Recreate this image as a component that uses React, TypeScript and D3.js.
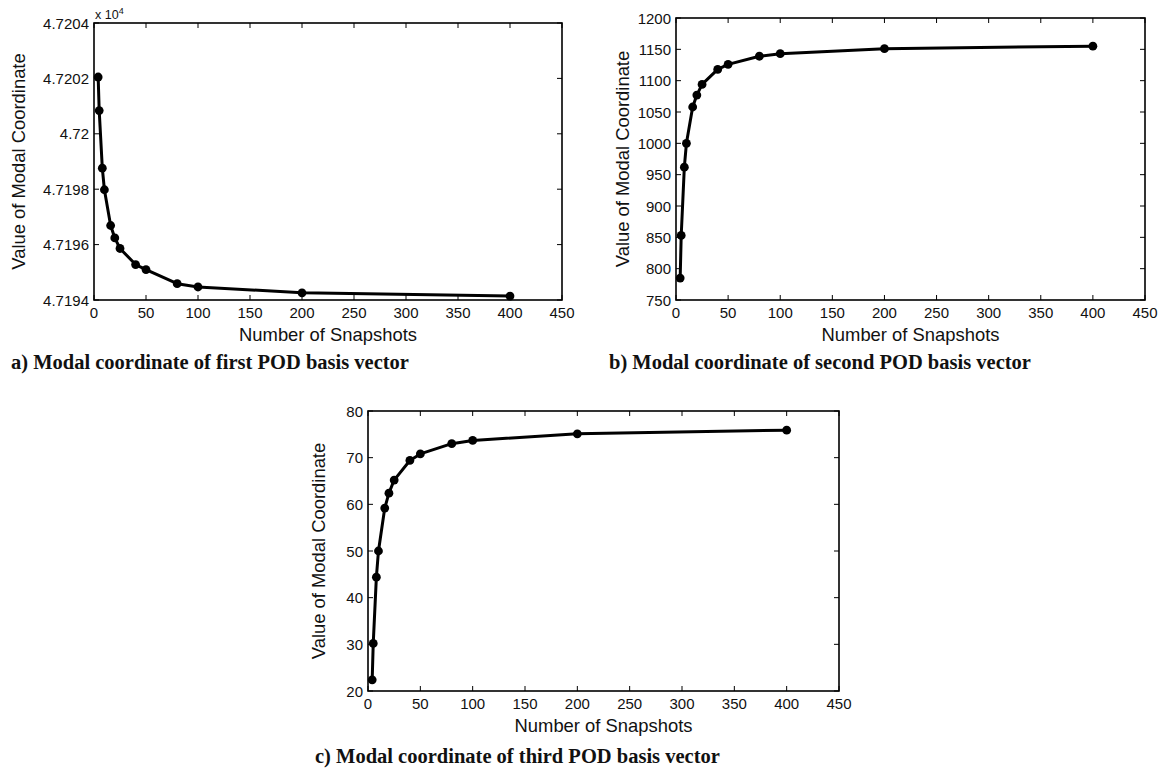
import React from "react";
import * as d3 from "d3";

const snapshots = [4, 5, 8, 10, 16, 20, 25, 40, 50, 80, 100, 200, 400];
const firstCoord = [4.720205, 4.720084, 4.719876, 4.719798, 4.719669, 4.719624, 4.719586, 4.719528, 4.71951, 4.719459, 4.719447, 4.719426, 4.719414];
const secondCoord = [785, 853, 962, 1000, 1058, 1077, 1094, 1118, 1126, 1139, 1143, 1151, 1155];
const thirdCoord = [22.4, 30.2, 44.4, 50.0, 59.2, 62.4, 65.2, 69.4, 70.8, 73.0, 73.7, 75.1, 75.9];

const xTicks = [0, 50, 100, 150, 200, 250, 300, 350, 400, 450];
const yTicksA = [4.7194, 4.7196, 4.7198, 4.72, 4.7202, 4.7204];
const yTickLabelsA = ["4.7194", "4.7196", "4.7198", "4.72", "4.7202", "4.7204"];
const yTicksB = [750, 800, 850, 900, 950, 1000, 1050, 1100, 1150, 1200];
const yTicksC = [20, 30, 40, 50, 60, 70, 80];

const captions = [
  "a) Modal coordinate of first POD basis vector",
  "b) Modal coordinate of second POD basis vector",
  "c) Modal coordinate of third POD basis vector",
];

const SANS = "'Liberation Sans', Arial, Helvetica, sans-serif";
const SERIF = "'Liberation Serif', 'Times New Roman', Times, serif";

type PanelProps = {
  left: number; right: number; top: number; bottom: number;
  ys: number[]; yTicks: number[]; yLabels: string[]; yDomain: [number, number];
  titleX: number; exponent?: boolean;
};

function Panel(p: PanelProps) {
  const x = d3.scaleLinear().domain([0, 450]).range([p.left, p.right]);
  const y = d3.scaleLinear().domain(p.yDomain).range([p.bottom, p.top]);
  const pts = snapshots.map((s, i) => [x(s), y(p.ys[i])] as [number, number]);
  const line = d3.line()(pts) || "";
  const tl = 5;
  return (
    <g>
      <rect x={p.left} y={p.top} width={p.right - p.left} height={p.bottom - p.top}
        fill="white" stroke="black" strokeWidth={1.6} />
      {xTicks.map((t) => (
        <g key={"x" + t}>
          <line x1={x(t)} x2={x(t)} y1={p.bottom} y2={p.bottom - tl} stroke="black" strokeWidth={1} />
          <line x1={x(t)} x2={x(t)} y1={p.top} y2={p.top + tl} stroke="black" strokeWidth={1} />
          <text x={x(t)} y={p.bottom + 12} textAnchor="middle" dominantBaseline="central"
            fontFamily={SANS} fontSize={15} fill="#111">{t}</text>
        </g>
      ))}
      {p.yTicks.map((t, i) => (
        <g key={"y" + t}>
          <line x1={p.left} x2={p.left + tl} y1={y(t)} y2={y(t)} stroke="black" strokeWidth={1} />
          <line x1={p.right} x2={p.right - tl} y1={y(t)} y2={y(t)} stroke="black" strokeWidth={1} />
          <text x={p.left - 5} y={y(t)} textAnchor="end" dominantBaseline="central"
            fontFamily={SANS} fontSize={15} fill="#111">{p.yLabels[i]}</text>
        </g>
      ))}
      <text x={(p.left + p.right) / 2} y={p.bottom + 34} textAnchor="middle" dominantBaseline="central"
        fontFamily={SANS} fontSize={18.4} fill="#111">Number of Snapshots</text>
      <text transform={`translate(${p.titleX},${(p.top + p.bottom) / 2}) rotate(-90)`}
        textAnchor="middle" dominantBaseline="central"
        fontFamily={SANS} fontSize={18.4} fill="#111">Value of Modal Coordinate</text>
      {p.exponent && (
        <text x={p.left + 1} y={p.top - 4} fontFamily={SANS} fontSize={12.5} fill="#111">
          x 10<tspan dy={-5} fontSize={9}>4</tspan>
        </text>
      )}
      <path d={line} fill="none" stroke="black" strokeWidth={3} strokeLinejoin="round" />
      {pts.map((pt, i) => (
        <circle key={i} cx={pt[0]} cy={pt[1]} r={4.4} fill="black" />
      ))}
    </g>
  );
}

export default function App() {
  return (
    <svg width={1165} height={769} style={{ position: "absolute", left: 0, top: 0, background: "white" }}>
      <rect width={1165} height={769} fill="white" />
      <Panel left={94} right={562} top={23} bottom={300} ys={firstCoord} yTicks={yTicksA}
        yLabels={yTickLabelsA} yDomain={[4.7194, 4.7204]} titleX={18} exponent />
      <Panel left={676} right={1145} top={18} bottom={300} ys={secondCoord} yTicks={yTicksB}
        yLabels={yTicksB.map(String)} yDomain={[750, 1200]} titleX={622} />
      <Panel left={368} right={839} top={411} bottom={691} ys={thirdCoord} yTicks={yTicksC}
        yLabels={yTicksC.map(String)} yDomain={[20, 80]} titleX={318} />
      <text x={11} y={369} fontFamily={SERIF} fontWeight="bold" fontSize={20.5} fill="#111">{captions[0]}</text>
      <text x={609} y={369} fontFamily={SERIF} fontWeight="bold" fontSize={20.5} fill="#111">{captions[1]}</text>
      <text x={315} y={763} fontFamily={SERIF} fontWeight="bold" fontSize={20.5} fill="#111">{captions[2]}</text>
    </svg>
  );
}
